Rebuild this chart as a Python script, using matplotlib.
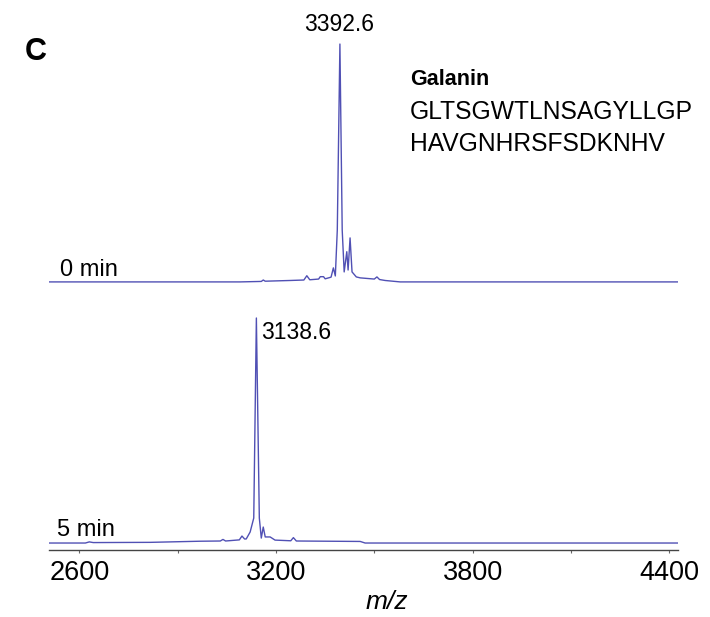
import matplotlib.pyplot as plt

plt.rcParams['font.family'] = ['Liberation Sans', 'DejaVu Sans']

# spectrum vertices (m/z, relative intensity %)
mz_0min = [2507, 3090, 3155, 3161, 3167, 3243, 3285, 3294, 3303, 3330, 3335, 3345,
           3350, 3368, 3375, 3381, 3387, 3395, 3402, 3408, 3416, 3420, 3426,
           3432, 3445, 3457, 3500, 3508, 3516, 3533, 3579, 4427]
int_0min = [0, 0, 0.2, 0.8, 0.3, 0.6, 0.8, 2.6, 0.9, 1.2, 2.2, 2.2,
            1.3, 2.0, 5.9, 2.5, 21.8, 100, 21.8, 4.2, 12.7, 5.0, 18.5,
            4.2, 2.1, 1.7, 1.2, 2.1, 1.0, 0.6, 0, 0]

mz_5min = [2507, 2618, 2630, 2642, 2816, 2968, 3030, 3038, 3046, 3088, 3096, 3104,
           3109, 3121, 3132, 3140, 3149, 3155, 3161, 3167, 3182, 3197, 3245,
           3253, 3262, 3457, 3472, 4427]
int_5min = [0, 0, 0.5, 0.2, 0.3, 0.8, 0.9, 1.6, 0.9, 1.4, 3.1, 1.8,
            1.8, 4.9, 11.1, 100, 11.1, 2.2, 7.1, 2.7, 2.7, 1.3, 1.0,
            2.4, 0.9, 0.7, 0, 0]

peak_0min = 3392.6
peak_5min = 3138.6
time_labels = ['0 min', '5 min']
peptide_name = 'Galanin'
peptide_seq = ['GLTSGWTLNSAGYLLGP', 'HAVGNHRSFSDKNHV']
xticks = [2600, 3200, 3800, 4400]
xminor = [2900, 3500, 4100]

line_color = '#5050b4'
W, H = 710, 617

fig = plt.figure(figsize=(7.10, 6.17), dpi=100)

def px_axes(left, top, right, bottom):
    return fig.add_axes([left / W, 1 - bottom / H, (right - left) / W, (bottom - top) / H])

ax_top = px_axes(49, 30, 678, 290)
ax_bot = px_axes(49, 300, 678, 550)

xlim = (2507, 4427)
ax_top.plot(mz_0min, int_0min, color=line_color, lw=1.0)
ax_top.set_xlim(*xlim)
ax_top.set_ylim(-3.4, 105.9)
ax_top.axis('off')

ax_bot.plot(mz_5min, int_5min, color=line_color, lw=1.0)
ax_bot.set_xlim(*xlim)
ax_bot.set_ylim(-3.1, 108)
for s in ['top', 'left', 'right']:
    ax_bot.spines[s].set_visible(False)
ax_bot.spines['bottom'].set_color('#444444')
ax_bot.spines['bottom'].set_linewidth(1.0)
ax_bot.set_yticks([])
ax_bot.set_xticks(xticks)
ax_bot.set_xticks(xminor, minor=True)
ax_bot.tick_params(axis='x', which='both', length=2.5, width=0.8, color='#666666',
                   labelsize=19.5, pad=5)
ax_bot.set_xlabel('m/z', fontsize=19, style='italic')
ax_bot.xaxis.set_label_coords(0.537, -0.16)

# peak labels
ax_top.annotate(f'{peak_0min:.1f}', (peak_0min, 100), xytext=(0, 6),
                textcoords='offset points', ha='center', va='bottom', fontsize=16.5)
ax_bot.annotate(f'{peak_5min:.1f}', (peak_5min, 100), xytext=(4, -2),
                textcoords='offset points', ha='left', va='top', fontsize=16.5)

ax_top.text(0.017, 0.035, time_labels[0], transform=ax_top.transAxes, fontsize=17,
            ha='left', va='bottom')
ax_bot.text(0.013, 0.035, time_labels[1], transform=ax_bot.transAxes, fontsize=17,
            ha='left', va='bottom')

fig.text(410 / W, 1 - 85 / H, peptide_name, fontsize=15.5, weight='bold', ha='left', va='baseline')
fig.text(410 / W, 1 - 119 / H, peptide_seq[0], fontsize=17.7, ha='left', va='baseline')
fig.text(410 / W, 1 - 151 / H, peptide_seq[1], fontsize=17.7, ha='left', va='baseline')

fig.text(25 / W, 1 - 60 / H, 'C', fontsize=22, weight='bold', ha='left', va='baseline')

fig.savefig('out.png', dpi=100)
